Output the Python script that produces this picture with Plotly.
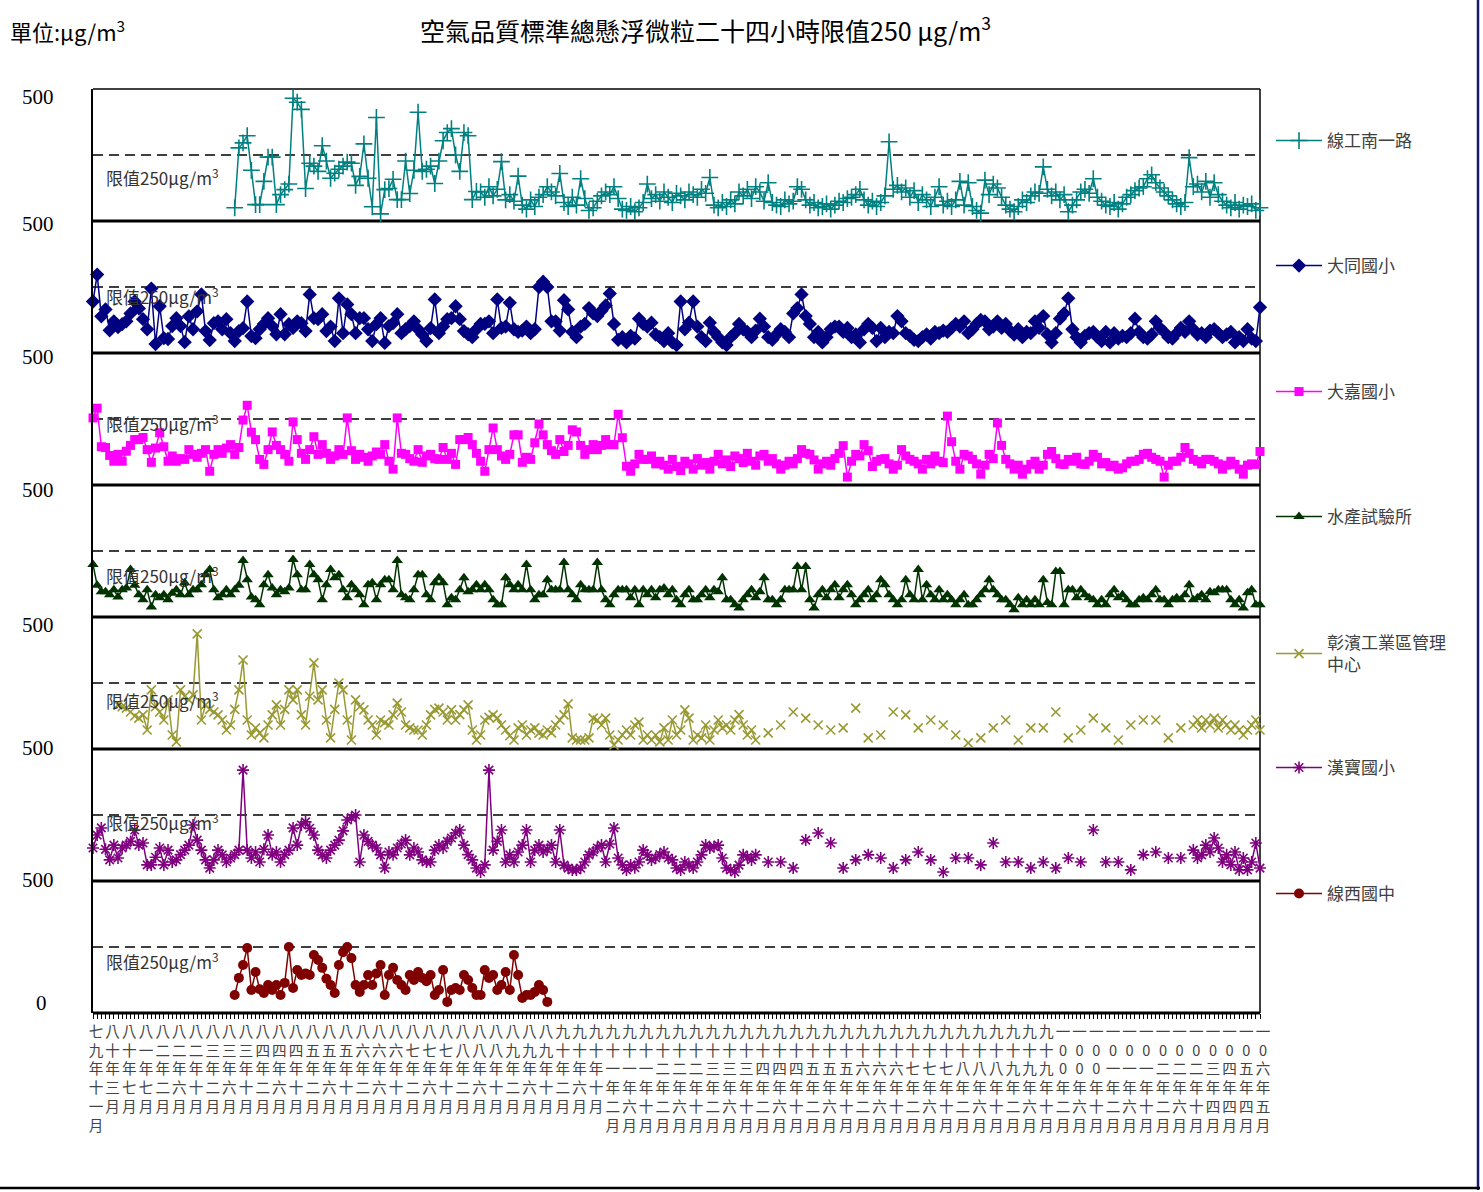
import plotly.graph_objects as go
from plotly.subplots import make_subplots

# ---------------- data ----------------
N_CAT = 281
categories = list(range(N_CAT))
tick_positions = list(range(0, N_CAT, 4))
tick_labels = [
    "七九年十一月", "八十年三月", "八十年七月", "八一年七月", "八二年二月", "八二年六月", "八二年十月",
    "八三年二月", "八三年六月", "八三年十月", "八四年二月", "八四年六月", "八四年十月",
    "八五年二月", "八五年六月", "八五年十月", "八六年二月", "八六年六月", "八六年十月",
    "八七年二月", "八七年六月", "八七年十月", "八八年二月", "八八年六月", "八八年十月",
    "八九年二月", "八九年六月", "八九年十月", "九十年二月", "九十年六月", "九十年十月",
    "九十一年二月", "九十一年六月", "九十一年十月", "九十二年二月", "九十二年六月", "九十二年十月",
    "九十三年二月", "九十三年六月", "九十三年十月", "九十四年二月", "九十四年六月", "九十四年十月",
    "九十五年二月", "九十五年六月", "九十五年十月", "九十六年二月", "九十六年六月", "九十六年十月",
    "九十七年二月", "九十七年六月", "九十七年十月", "九十八年二月", "九十八年六月", "九十八年十月",
    "九十九年二月", "九十九年六月", "九十九年十月", "一00年二月", "一00年六月", "一00年十月",
    "一0一年二月", "一0一年六月", "一0一年十月", "一0二年二月", "一0二年六月", "一0二年十月",
    "一0三年四月", "一0四年四月", "一0五年四月", "一0六年五月",
]

station_names = ["線工南一路", "大同國小", "大嘉國小", "水產試驗所",
                 "彰濱工業區管理<br>中心", "漢寶國小", "線西國中"]

# 線工南一路 (from category 34)
s1_start = 34
s1_vals = [50, 277, 296, 323, 192, 62, 62, 150, 242, 242, 62, 100, 119, 140, 465, 450, 423, 123, 219, 208,
           188, 285, 227, 162, 181, 196, 208, 223, 219, 135, 169, 292, 162, 54, 392, 27, 119, 123, 158, 81,
           81, 227, 104, 192, 412, 188, 196, 208, 142, 227, 304, 335, 350, 250, 188, 335, 323, 81, 112,
           110, 90, 130, 95, 120, 225, 80, 100, 75, 170, 60, 45, 80, 55, 90, 100, 130, 110, 95, 180,
           70, 55, 90, 60, 160, 85, 40, 50, 75, 95, 110, 100, 130, 85, 45, 40, 55, 35, 50, 70,
           140, 85, 100, 75, 110, 90, 70, 105, 95, 80, 110, 100, 90, 120, 105, 165, 60, 50, 70, 55,
           80, 65, 110, 95, 120, 85, 130, 110, 75, 145, 70, 60, 55, 80, 65, 75, 130, 120, 80, 60,
           70, 50, 55, 65, 45, 60, 75, 70, 85, 90, 100, 120, 80, 60, 75, 55, 70, 95, 300, 120,
           135, 110, 125, 90, 115, 70, 100, 80, 55, 90, 130, 60, 75, 55, 80, 150, 60, 145, 55, 40,
           30, 155, 100, 140, 125, 90, 60, 45, 35, 55, 80, 70, 95, 110, 105, 205, 120, 95, 110, 80,
           100, 35, 60, 80, 110, 120, 105, 160, 90, 75, 60, 55, 70, 45, 65, 90, 100, 115, 125, 130,
           160, 175, 145, 125, 110, 95, 80, 65, 55, 70, 240, 130, 140, 110, 150, 90, 145, 100, 75, 60,
           50, 70, 45, 60, 55, 65, 40, 50]

# 大同國小 (from category 0)
s2_start = 0
s2_vals = [195, 297, 139, 165, 86, 120, 98, 109, 120, 150, 195, 169, 128, 90, 244, 34, 177, 56, 53, 102,
           132, 102, 41, 139, 90, 158, 222, 83, 49, 113, 120, 90, 128, 75, 45, 83, 94, 195, 64, 56,
           90, 110, 132, 102, 71, 147, 71, 109, 95, 120, 113, 83, 222, 132, 128, 147, 83, 100, 45, 207,
           75, 184, 147, 75, 132, 132, 90, 45, 109, 132, 38, 102, 113, 147, 75, 90, 102, 120, 90, 70,
           45, 94, 203, 75, 100, 128, 132, 177, 128, 83, 71, 60, 90, 110,
           110, 120, 75, 203, 95, 100, 190, 90, 80, 85, 100, 75, 90, 250, 270, 250, 120, 120, 85, 200,
           165, 80, 60, 100, 110, 170, 150, 140, 160, 180, 225, 110, 50, 60, 40, 65, 55, 130, 110, 100,
           115, 70, 60, 45, 75, 40, 30, 195, 90, 115, 195, 100, 60, 45, 115, 80, 60, 40, 30, 60,
           75, 110, 90, 80, 60, 85, 130, 100, 60, 50, 70, 90, 80, 60, 150, 170, 222, 140, 110, 60,
           80, 40, 60, 90, 100, 100, 80, 95, 60, 70, 40, 90, 110, 95, 45, 95, 60, 80, 75, 140,
           120, 75, 65, 50, 45, 60, 70, 55, 80, 75, 85, 80, 95, 110, 100, 120, 75, 90, 110, 125,
           120, 90, 100, 120, 95, 110, 85, 70, 90, 60, 80, 75, 120, 95, 140, 70, 40, 75, 130, 150,
           207, 90, 60, 40, 65, 75, 80, 60, 45, 80, 40, 75, 55, 65, 60, 75, 130, 80, 60, 55,
           70, 120, 95, 80, 60, 55, 75, 95, 80, 120, 90, 70, 75, 60, 85, 90, 75, 60, 70, 80,
           40, 60, 45, 90, 55, 45, 173]

# 大嘉國小 (from category 0)
s3_start = 0
s3_vals = [254, 291, 145, 142, 112, 90, 116, 90, 128, 150, 172, 172, 180, 134, 86, 140, 198, 145, 90, 110,
           90, 100, 97, 134, 116, 105, 120, 134, 52, 116, 134, 120, 140, 153, 116, 142, 246, 302, 200, 172,
           97, 78, 134, 201, 150, 134, 116, 90, 239, 172, 120, 97, 134, 183, 116, 153, 120, 97, 110, 134,
           116, 254, 130, 97, 116, 105, 90, 110, 125, 116, 153, 90, 60, 254, 120, 116, 100, 90, 134, 86,
           110, 116, 100, 97, 142, 97, 120, 78, 172, 172, 180, 153, 120, 90, 52, 134, 216, 134, 110, 97,
           116, 190, 190, 86, 105, 97, 160, 231, 190, 153, 130, 116, 172, 127, 150, 209, 201, 150, 116, 134,
           153, 134, 150, 172, 153, 153, 268, 179, 71, 52, 80, 116, 97,
           97, 110, 80, 90, 75, 60, 97,
           70, 55, 90, 80, 60, 100, 75, 85, 60, 90, 116, 80, 95, 70, 110, 100, 85, 120, 90, 75,
           110, 116, 90, 100, 80, 60, 75, 90, 80, 100, 134, 120, 116, 95, 60, 80, 90, 75, 100, 120,
           149, 30, 90, 116, 110, 153, 130, 70, 90, 97, 100, 80, 60, 75, 134, 110, 97, 90, 80, 60,
           97, 80, 110, 90, 85, 261, 164, 90, 60, 116, 110, 97, 80, 41, 75, 116, 100, 235, 150, 97,
           80, 60, 75, 41, 60, 78, 90, 60, 75, 116, 127, 100, 80, 78, 97, 90, 105, 80, 78, 90,
           116, 105, 80, 85, 70, 75, 60, 65, 80, 90, 90, 97, 116, 120, 105, 97, 90, 30, 75, 90,
           90, 105, 142, 120, 97, 90, 80, 97, 97, 90, 80, 60, 75, 90, 78, 60, 41, 75, 80, 78, 127]

# 水產試驗所 (from category 0)
s4_start = 0
s4_vals = [199, 120, 96, 96, 84, 103, 76, 103, 110, 180, 120, 84, 65, 103, 38, 84, 73, 84, 65, 90,
           103, 84, 130, 84, 103, 103, 122, 160, 180, 103, 73, 84, 103, 84, 103, 120, 214, 141, 76, 65,
           46, 122, 160, 110, 84, 103, 96, 110, 218, 160, 103, 103, 199, 160, 141, 65, 122, 180, 149, 160,
           103, 73, 122, 103, 84, 46, 122, 130, 65, 122, 141, 141, 103, 214, 84, 73, 65, 103, 160, 160,
           84, 65, 130, 149, 130, 46, 73, 65, 103, 149, 96, 103, 122, 103, 122, 103, 65, 46, 46, 149,
           122, 103, 122, 103, 199, 103, 65, 84, 84, 141, 103, 103, 103, 206, 103, 84, 65, 122, 103, 103,
           103, 206, 103, 65, 46, 84, 103, 103, 103, 73, 103, 46, 103, 84, 103, 73, 103, 110, 84, 103,
           65, 46, 84, 103, 65, 65, 84, 103, 73, 103, 96, 149, 65, 65, 46, 34, 65, 84, 103, 73,
           96, 149, 65, 65, 46, 65, 103, 103, 103, 191, 103, 191, 65, 34, 84, 103, 73, 103, 122, 73,
           103, 122, 84, 46, 65, 84, 103, 65, 84, 141, 122, 84, 65, 46, 65, 141, 84, 65, 180, 65,
           122, 84, 65, 103, 65, 84, 65, 46, 65, 84, 46, 46, 65, 84, 103, 141, 103, 84, 65, 65,
           46, 27, 73, 46, 65, 46, 65, 46, 141, 55, 46, 172, 172, 46, 103, 103, 73, 103, 84, 73,
           65, 46, 65, 46, 84, 103, 73, 84, 65, 46, 46, 65, 73, 65, 84, 103, 65, 65, 46, 65,
           73, 65, 84, 122, 65, 73, 84, 65, 96, 92, 103, 103, 103, 65, 46, 65, 34, 92, 103, 46, 46]

# 彰濱工業區管理中心: dense run, sparse samples, dense run
s5_start = 6
s5_vals = [167, 160, 155, 140, 125, 117, 129, 72, 224, 160, 140, 110, 186, 53, 27, 224, 200, 186, 205, 436,
           110, 167, 150, 140, 129, 110, 72, 91, 150, 224, 337, 110, 53, 80, 60, 42, 91, 129, 167, 91,
           150, 224, 186, 224, 129, 91, 200, 326, 186, 224, 110, 42, 150, 250, 224, 110, 34, 186, 160, 148,
           110, 91, 53, 110, 100, 91, 129, 174, 140, 91, 80, 72, 72, 53, 91, 129, 150, 155, 140, 110,
           148, 110, 130, 148, 167, 72, 34, 53, 110, 120, 129, 117, 91, 72, 50, 34, 80, 91, 53, 72,
           80, 60, 53, 72, 61, 91, 110, 129, 171, 42, 34, 34, 34, 42, 117, 110, 91, 117, 53, 15,
           34, 53, 72, 53, 91, 102, 34, 53, 34, 53, 27, 80, 34, 110, 53, 72, 148, 117, 34, 53,
           42, 91, 34, 72, 110, 80, 91, 72, 110, 130, 91, 53, 72, 34]
s5_sparse_cat = [162, 165, 168, 171, 174, 177, 180, 183, 186, 189, 192, 195, 198, 201, 204, 207, 210,
                 213, 216, 219, 222, 225, 228, 231, 234, 237, 240, 243, 246, 249, 252, 255, 258, 261]
s5_sparse_vals = [61, 91, 140, 117, 91, 72, 80, 155, 42, 53, 140, 129, 80, 110, 91, 53, 23,
                  42, 80, 110, 34, 80, 80, 140, 42, 72, 117, 80, 34, 91, 110, 110, 42, 80]
s5_end_start = 264
s5_end_vals = [91, 110, 80, 110, 91, 117, 80, 110, 91, 72, 91, 72, 53, 72, 91, 110, 72]

# 漢寶國小: dense run, sparse samples, dense run
s6_start = 0
s6_vals = [125, 174, 201, 120, 80, 136, 87, 125, 136, 150, 193, 136, 144, 61, 61, 90, 125, 61, 117, 72,
           80, 100, 117, 136, 212, 155, 117, 80, 49, 80, 117, 99, 72, 87, 100, 117, 420, 117, 87, 110,
           72, 120, 174, 99, 110, 72, 100, 117, 201, 136, 212, 224, 200, 174, 117, 99, 87, 117, 136, 155,
           190, 231, 240, 250, 72, 174, 150, 136, 125, 99, 49, 110, 99, 125, 140, 155, 99, 125, 110, 80,
           72, 72, 117, 136, 125, 150, 163, 182, 193, 136, 100, 80, 49, 34, 61, 420, 117, 150, 193, 72,
           99, 72, 110, 136, 193, 72, 117, 136, 110, 120, 136, 72, 193, 60, 49, 42, 42, 49, 72, 99,
           110, 125, 136, 72, 140, 201, 87, 61, 42, 61, 50, 72, 117, 99, 80, 87, 100, 110, 87, 80,
           49, 42, 72, 60, 49, 72, 99, 136, 125, 130, 136, 87, 49, 42, 34, 60, 99, 91, 80, 99]
s6_sparse_cat = [162, 165, 168, 171, 174, 177, 180, 183, 186, 189, 192, 195, 198, 201, 204, 207, 210,
                 213, 216, 219, 222, 225, 228, 231, 234, 237, 240, 243, 246, 249, 252, 255, 258, 261]
s6_sparse_vals = [72, 72, 49, 155, 182, 144, 49, 80, 99, 87, 49, 80, 110, 80, 34, 87, 87,
                  61, 144, 72, 72, 49, 72, 49, 87, 72, 193, 72, 72, 42, 99, 110, 87, 87]
s6_end_start = 264
s6_end_vals = [117, 87, 99, 136, 110, 163, 125, 72, 99, 61, 110, 42, 87, 42, 72, 144, 49]

# 線西國中 (from category 34)
s7_start = 34
s7_vals = [68, 133, 182, 246, 87, 155, 90, 76, 106, 87, 106, 68, 114, 250, 95, 163, 144, 150, 144, 220,
           201, 171, 130, 106, 76, 182, 230, 250, 208, 106, 80, 106, 144, 106, 150, 182, 68, 144, 171, 125,
           106, 87, 144, 125, 155, 133, 120, 144, 68, 87, 163, 42, 87, 95, 87, 144, 125, 95, 68, 68,
           163, 133, 144, 87, 106, 155, 87, 220, 144, 57, 68, 68, 80, 106, 87, 42]

limit_value = 250
panel_max = 500


def place(segments):
    arr = [None] * N_CAT
    for start, vals in segments:
        for i, v in enumerate(vals):
            if 0 <= start + i < N_CAT:
                arr[start + i] = v
    return arr


series_y = [
    place([(s1_start, s1_vals)]),
    place([(s2_start, s2_vals)]),
    place([(s3_start, s3_vals)]),
    place([(s4_start, s4_vals)]),
    place([(s5_start, s5_vals), (s5_end_start, s5_end_vals)] +
          [(c, [v]) for c, v in zip(s5_sparse_cat, s5_sparse_vals)]),
    place([(s6_start, s6_vals), (s6_end_start, s6_end_vals)] +
          [(c, [v]) for c, v in zip(s6_sparse_cat, s6_sparse_vals)]),
    place([(s7_start, s7_vals)]),
]

colors = ["#008080", "#000080", "#FF00FF", "#003300", "#999933", "#800080", "#800000"]
symbols = ["cross-thin", "diamond", "square", "triangle-up", "x-thin", "asterisk", "circle"]
msizes = [12, 11, 9, 10, 9, 10, 10]

# ---------------- geometry helpers ----------------
W, H = 1483, 1192
L, R, T, B = 93, 1260, 89, 1013


def px2x(px):
    return (px - L) / (R - L)


def py2y(py):
    return (B - py) / (B - T)


fig = make_subplots(rows=7, cols=1, shared_xaxes=True, vertical_spacing=0)

for i in range(7):
    c = colors[i]
    line_sym = symbols[i] in ("cross-thin", "x-thin", "asterisk")
    marker = dict(symbol=symbols[i], size=msizes[i], color=c,
                  line=dict(color=c, width=1.6 if line_sym else 0))
    fig.add_trace(go.Scatter(
        x=categories, y=series_y[i], mode="lines+markers", name=station_names[i],
        line=dict(color=c, width=1.5), marker=marker, connectgaps=False,
        cliponaxis=False, legend="legend" if i == 0 else f"legend{i+1}",
        hoverinfo="skip"), row=i + 1, col=1)

for i in range(7):
    fig.update_yaxes(range=[0, panel_max], showticklabels=False, ticks="", showgrid=False,
                     zeroline=False, showline=True, linecolor="black", linewidth=2,
                     row=i + 1, col=1)
    fig.update_xaxes(range=[0, N_CAT - 1], showgrid=False, zeroline=False, ticks="",
                     showline=False, row=i + 1, col=1)

fig.update_xaxes(
    tickmode="array", tickvals=tick_positions,
    ticktext=["<br>".join(list(t)) for t in tick_labels],
    showticklabels=True, tickangle=0, ticks="outside", ticklen=5, tickwidth=1, tickcolor="black",
    ticklabelshift=3,
    tickfont=dict(family="Noto Sans CJK TC", size=14.6, color="#444444"),
    minor=dict(ticks="outside", ticklen=5, tickwidth=1, tickcolor="black", dtick=1, tick0=0,
               showgrid=False),
    row=7, col=1)

shapes = []
# panel boundaries
for k in range(8):
    shapes.append(dict(type="line", xref="paper", yref="paper", x0=0, x1=1, y0=k / 7, y1=k / 7,
                       line=dict(color="black", width=1.5 if k == 7 else 3), layer="below"))
# right border of plot area
shapes.append(dict(type="line", xref="paper", yref="paper", x0=1, x1=1, y0=0, y1=1,
                   line=dict(color="black", width=1.5), layer="below"))
# dashed limit lines
for k in range(7):
    yk = (k + limit_value / panel_max) / 7
    shapes.append(dict(type="line", xref="paper", yref="paper", x0=0, x1=1, y0=yk, y1=yk,
                       line=dict(color="black", width=1.5, dash="10px,6px"), layer="below"))
# outer chart border
shapes.append(dict(type="line", xref="paper", yref="paper", x0=px2x(1478), x1=px2x(1478),
                   y0=py2y(1190), y1=py2y(0), line=dict(color="#1a1a6e", width=2.5)))
shapes.append(dict(type="line", xref="paper", yref="paper", x0=px2x(0), x1=px2x(1480),
                   y0=py2y(1188), y1=py2y(1188), line=dict(color="black", width=2.5)))

annotations = []
annotations.append(dict(text="空氣品質標準總懸浮微粒二十四小時限值250 μg/m<sup>3</sup>",
                        xref="paper", yref="paper", x=px2x(705), y=py2y(29),
                        xanchor="center", yanchor="middle", showarrow=False,
                        font=dict(family="Noto Sans CJK TC", size=25, color="black")))
annotations.append(dict(text="單位:μg/m<sup>3</sup>", xref="paper", yref="paper",
                        x=px2x(8), y=py2y(30), xanchor="left", yanchor="middle", showarrow=False,
                        font=dict(family="Noto Sans CJK TC", size=22, color="black")))
label_y = [97, 224, 357, 490, 625, 748, 880]
for py in label_y:
    annotations.append(dict(text=str(panel_max), xref="paper", yref="paper", x=px2x(38), y=py2y(py),
                            xanchor="center", yanchor="middle", showarrow=False,
                            font=dict(family="Liberation Serif", size=21, color="black")))
annotations.append(dict(text="0", xref="paper", yref="paper", x=px2x(41), y=py2y(1003),
                        xanchor="center", yanchor="middle", showarrow=False,
                        font=dict(family="Liberation Serif", size=21, color="black")))
limit_label_y = [177, 296, 423, 575, 700, 822, 961]
for py in limit_label_y:
    annotations.append(dict(text=f"限值{limit_value}μg/m<sup>3</sup>", xref="paper", yref="paper",
                            x=px2x(104), y=py2y(py), xanchor="left", yanchor="middle",
                            showarrow=False,
                            font=dict(family="Noto Sans CJK TC", size=17, color="#333333")))

legend_y = [141, 266, 392, 517, 654, 768, 894]
legend_layout = {}
for i, py in enumerate(legend_y):
    key = "legend" if i == 0 else f"legend{i+1}"
    legend_layout[key] = dict(x=px2x(1271), y=py2y(py), xanchor="left", yanchor="middle",
                              bgcolor="rgba(0,0,0,0)", itemwidth=46,
                              font=dict(family="Noto Sans CJK TC", size=17, color="#404040"))

fig.update_layout(
    width=W, height=H,
    margin=dict(l=L, r=W - R, t=T, b=H - B, pad=0),
    paper_bgcolor="white", plot_bgcolor="rgba(0,0,0,0)",
    shapes=shapes, annotations=annotations, showlegend=True,
    **legend_layout,
)

fig.write_html("out.html", config={"displayModeBar": False},
               post_script="document.body.style.margin='0';document.body.style.overflow='hidden';")
